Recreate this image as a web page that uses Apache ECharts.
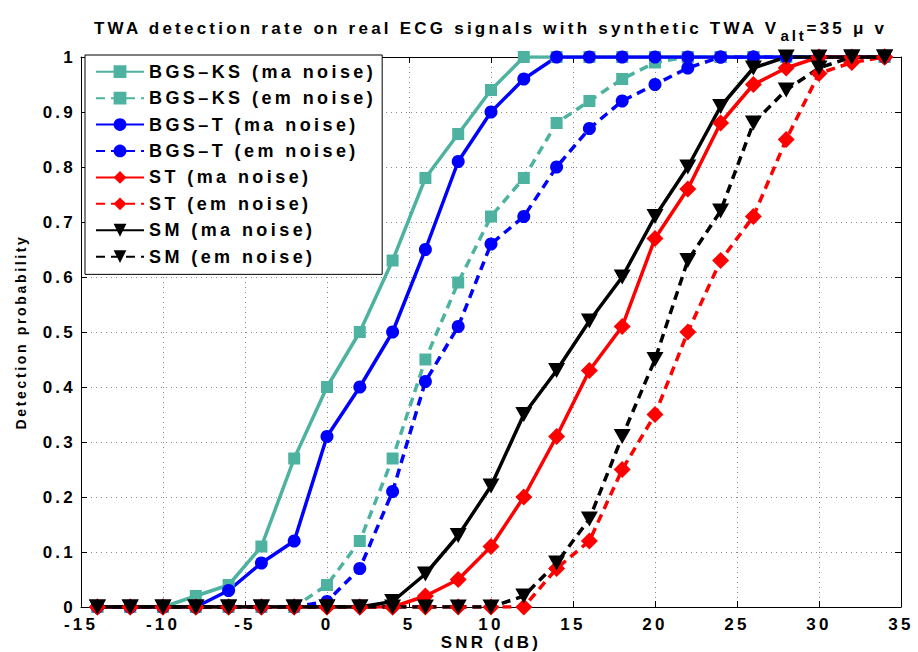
<!DOCTYPE html>
<html>
<head>
<meta charset="utf-8">
<script src="https://cdn.jsdelivr.net/npm/echarts@6/dist/echarts.min.js"></script>
<style>
  html, body { margin: 0; padding: 0; background: #fff; }
  #main { width: 918px; height: 652px; }
  /* the source figure prints its labels with wide letter spacing */
  #main text { letter-spacing: 0.19em; }
</style>
</head>
<body>
<div id="main"></div>
<script>
// SNR points (dB)
var snr = [-14, -12, -10, -8, -6, -4, -2, 0, 2, 4, 6, 8, 10, 12, 14, 16, 18, 20, 22, 24, 26, 28, 30, 32, 34];

// detection probability per method / noise
var bgsKsMa = [0, 0, 0, 0.02, 0.04, 0.11, 0.27, 0.40, 0.50, 0.63, 0.78, 0.86, 0.94, 1, 1, 1, 1, 1, 1, 1, 1, 1, 1, 1, 1];
var bgsKsEm = [0, 0, 0, 0, 0, 0, 0, 0.04, 0.12, 0.27, 0.45, 0.59, 0.71, 0.78, 0.88, 0.92, 0.96, 0.99, 1, 1, 1, 1, 1, 1, 1];
var bgsTMa  = [0, 0, 0, 0, 0.03, 0.08, 0.12, 0.31, 0.40, 0.50, 0.65, 0.81, 0.90, 0.96, 1, 1, 1, 1, 1, 1, 1, 1, 1, 1, 1];
var bgsTEm  = [0, 0, 0, 0, 0, 0, 0, 0.01, 0.07, 0.21, 0.41, 0.51, 0.66, 0.71, 0.80, 0.87, 0.92, 0.95, 0.98, 1, 1, 1, 1, 1, 1];
var stMa    = [0, 0, 0, 0, 0, 0, 0, 0, 0, 0, 0.02, 0.05, 0.11, 0.20, 0.31, 0.43, 0.51, 0.67, 0.76, 0.88, 0.95, 0.98, 1, 1, 1];
var stEm    = [0, 0, 0, 0, 0, 0, 0, 0, 0, 0, 0, 0, 0, 0, 0.07, 0.12, 0.25, 0.35, 0.50, 0.63, 0.71, 0.85, 0.97, 0.99, 1];
var smMa    = [0, 0, 0, 0, 0, 0, 0, 0, 0, 0.01, 0.06, 0.13, 0.22, 0.35, 0.43, 0.52, 0.60, 0.71, 0.80, 0.91, 0.98, 1, 1, 1, 1];
var smEm    = [0, 0, 0, 0, 0, 0, 0, 0, 0, 0, 0, 0, 0, 0.02, 0.08, 0.16, 0.31, 0.45, 0.63, 0.72, 0.88, 0.94, 0.98, 1, 1];

var names = ['BGS\u2013KS (ma noise)', 'BGS\u2013KS (em noise)', 'BGS\u2013T (ma noise)', 'BGS\u2013T (em noise)',
             'ST (ma noise)', 'ST (em noise)', 'SM (ma noise)', 'SM (em noise)'];

var teal = '#4db3a0';
var triDown = 'path://M0,0 L10,0 L5,9 Z';
var font = 'Liberation Sans, Arial, Helvetica, sans-serif';

// text measuring must know about the letter spacing set in the css above
var SPACING = 0.19;
var mctx = document.createElement('canvas').getContext('2d');
echarts.setPlatformAPI({
  measureText: function (text, f) {
    f = f || '12px sans-serif';
    mctx.font = f;
    var m = mctx.measureText(text);
    var px = f.match(/([\d.]+)px/);
    var size = px ? parseFloat(px[1]) : 12;
    return {
      width: m.width + SPACING * size * String(text).length,
      actualBoundingBoxAscent: m.actualBoundingBoxAscent,
      actualBoundingBoxDescent: m.actualBoundingBoxDescent,
      actualBoundingBoxLeft: m.actualBoundingBoxLeft,
      actualBoundingBoxRight: m.actualBoundingBoxRight
    };
  }
});

function pts(ys) {
  return snr.map(function (x, i) { return [x, ys[i]]; });
}

function mk(name, ys, color, dashed, symbol, size) {
  return {
    name: name,
    type: 'line',
    data: pts(ys),
    symbol: symbol,
    symbolSize: size,
    showSymbol: true,
    itemStyle: { color: color },
    lineStyle: { color: color, width: 3.5, type: dashed ? [9, 6] : 'solid' },
    animation: false
  };
}

var chart = echarts.init(document.getElementById('main'), null, { renderer: 'svg' });

var option = {
  backgroundColor: '#fff',
  title: {
    text: 'TWA detection rate on real ECG signals with synthetic TWA V{sub|alt}=35 \u03bc v',
    left: 89,
    top: 8,
    textStyle: {
      fontFamily: font, fontSize: 17, fontWeight: 'bold', color: '#000',
      rich: {
        sub: { fontFamily: font, fontSize: 15, fontWeight: 'bold', color: '#000', padding: [14, 0, 0, 0] }
      }
    }
  },
  legend: {
    orient: 'vertical',
    left: 85,
    top: 55,
    padding: [6, 6, 7, 10],
    itemWidth: 48,
    itemHeight: 16,
    itemGap: 5,
    backgroundColor: '#fff',
    borderColor: '#000',
    borderWidth: 1,
    textStyle: { fontFamily: font, fontSize: 18, fontWeight: 'bold', color: '#000', lineHeight: 18 },
    data: names
  },
  grid: { left: 81, right: 17, top: 57, bottom: 45, outerBoundsMode: 'none', containLabel: false },
  xAxis: [{
    type: 'value', min: -15, max: 35, interval: 5,
    name: 'SNR (dB)', nameLocation: 'middle', nameGap: 27, nameMoveOverlap: false,
    nameTextStyle: { fontFamily: font, fontSize: 17, fontWeight: 'bold', color: '#000', lineHeight: 17 },
    axisLine: { onZero: false, lineStyle: { color: '#000', width: 1 } },
    axisTick: { inside: true, length: 6, lineStyle: { color: '#000' } },
    axisLabel: { fontFamily: font, fontSize: 17, fontWeight: 'bold', color: '#000', margin: 9, lineHeight: 17 },
    splitLine: { show: true, lineStyle: { color: '#888', type: [1, 4], width: 1 } }
  }, {
    type: 'value', min: -15, max: 35, interval: 5, position: 'top',
    axisLine: { show: true, onZero: false, lineStyle: { color: '#000', width: 1 } },
    axisTick: { show: true, inside: true, length: 6, lineStyle: { color: '#000' } },
    axisLabel: { show: false },
    splitLine: { show: false }
  }],
  yAxis: [{
    type: 'value', min: 0, max: 1, interval: 0.1,
    name: 'Detection probability', nameLocation: 'middle', nameGap: 52, nameMoveOverlap: false,
    nameTextStyle: { fontFamily: font, fontSize: 14, fontWeight: 'bold', color: '#000' },
    axisLine: { show: true, onZero: false, lineStyle: { color: '#000', width: 1 } },
    axisTick: { show: true, inside: true, length: 6, lineStyle: { color: '#000' } },
    axisLabel: { fontFamily: font, fontSize: 17, fontWeight: 'bold', color: '#000', margin: 5, lineHeight: 16 },
    splitLine: { show: true, lineStyle: { color: '#888', type: [1, 4], width: 1 } }
  }, {
    type: 'value', min: 0, max: 1, interval: 0.1, position: 'right',
    axisLine: { show: true, onZero: false, lineStyle: { color: '#000', width: 1 } },
    axisTick: { show: true, inside: true, length: 6, lineStyle: { color: '#000' } },
    axisLabel: { show: false },
    splitLine: { show: false }
  }],
  series: [
    mk(names[0], bgsKsMa, teal, false, 'rect', 12),
    mk(names[1], bgsKsEm, teal, true, 'rect', 12),
    mk(names[2], bgsTMa, '#0000ff', false, 'circle', 13),
    mk(names[3], bgsTEm, '#0000ff', true, 'circle', 13),
    mk(names[4], stMa, '#ff0000', false, 'diamond', 17),
    mk(names[5], stEm, '#ff0000', true, 'diamond', 17),
    mk(names[6], smMa, '#000000', false, triDown, [17, 15]),
    mk(names[7], smEm, '#000000', true, triDown, [17, 15])
  ]
};

chart.setOption(option);
</script>
</body>
</html>
